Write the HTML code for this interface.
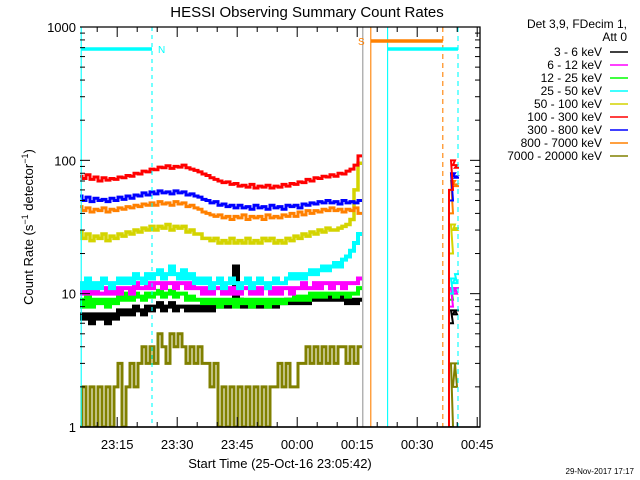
<!DOCTYPE html>
<html><head><meta charset="utf-8"><style>
body{margin:0;background:#fff}
svg{display:block;font-family:"Liberation Sans",sans-serif}
</style></head><body>
<svg id="chart" width="640" height="480" viewBox="0 0 640 480">
<rect width="640" height="480" fill="#fff"/>
<text x="307" y="17" font-size="15" text-anchor="middle">HESSI Observing Summary Count Rates</text>
<text transform="translate(33,227) rotate(-90)" font-size="13" text-anchor="middle">Count Rate (s<tspan baseline-shift="super" font-size="9">−1</tspan> detector<tspan baseline-shift="super" font-size="9">−1</tspan>)</text>
<text x="280" y="468" font-size="13" text-anchor="middle">Start Time (25-Oct-16 23:05:42)</text>
<text x="634" y="474" font-size="8" text-anchor="end">29-Nov-2017 17:17</text>
<g id="plot"></g>
<g id="axes"></g>
<g id="legend"></g>
</svg>
<script>
// ---- data ----
const seriesNames=["3 - 6 keV","6 - 12 keV","12 - 25 keV","25 - 50 keV","50 - 100 keV","100 - 300 keV","300 - 800 keV","800 - 7000 keV","7000 - 20000 keV"];
const seriesColors=["#000000","#ff00ff","#00ff00","#00ffff","#d4d400","#ff0000","#0000ff","#ff8000","#808000"];
const yTickValues=[1,10,100,1000];
const yTickLabels=["1","10","100","1000"];
const xTickMinutes=[9.3,24.3,39.3,54.3,69.3,84.3,99.3];
const xTickLabels=["23:15","23:30","23:45","00:00","00:15","00:30","00:45"];
// minutes after 23:05:42, one sample per minute (0..70)
const red=[76,73,78,72,75,70,74,71,73,72,75,74,77,76,80,79,83,82,86,85,89,88,91,87,90,89,92,88,86,84,82,79,77,74,72,70,68,69,66,67,64,65,63,66,62,64,63,65,62,64,63,66,64,67,66,69,68,72,70,74,73,76,75,78,76,80,79,83,86,92,108];
const blue=[54,50,53,49,52,50,51,49,52,50,53,51,54,52,55,54,57,55,58,56,59,57,58,56,59,57,58,55,56,54,53,51,50,48,49,46,47,45,46,44,46,44,45,43,46,44,45,43,46,44,45,43,46,45,46,44,47,46,48,47,49,48,50,48,49,47,50,48,49,48,50];
const orange=[45,42,44,41,43,42,44,41,43,42,44,43,45,44,46,45,47,46,48,46,49,47,48,46,49,47,48,45,46,44,43,41,40,39,38,39,37,38,36,38,37,39,36,38,37,38,36,39,37,38,37,39,38,40,38,41,39,42,40,42,41,43,42,44,42,43,41,43,42,44,40];
const yellow=[29,26,28,25,27,26,28,25,27,26,28,27,29,28,30,29,31,30,32,30,32,31,33,30,32,31,32,29,30,28,28,26,26,25,26,24,25,24,26,24,25,24,26,24,25,24,26,25,26,24,25,24,26,25,27,26,28,27,29,28,30,29,31,30,30,31,32,33,36,60,95];
const cyan=[12,11,13,11,12,11,13,12,11,12,13,12,13,12,14,13,12,14,13,14,15,13,14,16,14,13,15,13,14,12,13,12,13,11,12,13,11,12,13,12,11,12,13,11,12,13,12,11,12,13,12,12,13,14,13,14,13,14,15,14,15,16,15,16,17,16,18,19,21,24,28];
const magenta=[11,10,11,10,11,10,10,11,10,11,10,11,11,10,12,11,11,12,11,12,12,11,12,12,11,12,12,11,12,11,11,10,11,10,11,11,10,11,10,11,10,11,11,10,11,10,11,11,10,11,10,11,11,10,11,11,12,11,11,12,11,12,12,11,12,12,11,12,12,12,13];
const green=[9,8,9.5,8,9,8.5,9,8,9,8.5,9.5,9,10,9,10,9.5,9,10,9.5,10,10.5,9.5,10,10.5,9.5,10,10,9,9.5,9,9,8.5,9,8.5,9,8,9,8.5,9,8,9,8.5,9,8,9,8.5,9,8,9,8.5,9,8.5,9,9,9.5,9,9.5,9,10,9.5,10,9.5,10,10,9.5,10,10,9.5,10,10,11];
const black=[7,6.5,7,6,7,6.5,7,6,7,6.5,7.5,7,7.5,7,8,7.5,7,8,7.5,8,8.5,7.5,8,8.5,7.5,8,8,7.5,8,7.5,8,7.5,8,7.5,8,8.5,8,8,8.5,16,9,8,8.5,8,8.5,8,8.5,8,8.5,8,8.5,8.5,9,8.5,9,8.5,9,8.5,9,9.5,9,9,9.5,9,9,9.5,9,8.5,9,8.5,9];
const olive=[1,2,1,2,1,2,1,2,1,2,3,1,2,3,2,3,4,3,4,3,5,4,3,5,4,5,4,3,4,3,4,3,3,2,3,1,2,1,2,1,2,1,2,1,2,1,2,1,2,2,3,2,3,2,2,3,3,4,3,4,3,4,3,4,3,4,4,3,4,3,4];
// second segment (minutes 92.75..94.5)
const seg2Minutes=[92.75,93.25,93.75,94.25];
const seg2=[[6,7.5,7,7.5],[8,11,10,11],[9,11,10,11],[10,13,12,14],[20,33,30,31],[60,100,92,88],[50,80,76,74],[40,70,66,64],[1,3,2,3]];
const segEnd=[black,magenta,green,cyan,yellow,red,blue,orange,olive];
// ---- scales ----
const X0=80,X1=480,Y0=427,Y1=27,MIN_MAX=100;
const xs=m=>X0+(X1-X0)*m/MIN_MAX;
const ys=v=>Y0-(Y0-Y1)*Math.log10(Math.max(v,0.5))/3;
const NS="http://www.w3.org/2000/svg";
function mk(tag,attrs,parent){const e=document.createElementNS(NS,tag);for(const k in attrs)e.setAttribute(k,attrs[k]);parent.appendChild(e);return e;}
const plot=document.getElementById('plot'),axes=document.getElementById('axes'),legend=document.getElementById('legend');
const defs=mk('defs',{},plot);const cp=mk('clipPath',{id:'cp'},defs);mk('rect',{x:X0,y:Y1,width:X1-X0,height:Y0-Y1},cp);
const g=mk('g',{'clip-path':'url(#cp)'},plot);
function stepPath(ms,vals){let d='';for(let i=0;i<vals.length;i++){const x0=xs(ms[i]-0.5),x1=xs(ms[i]+0.5),y=ys(vals[i]);d+=(i?'L':'M')+x0+','+y+'L'+x1+','+y;}return d;}
const mins=red.map((_,i)=>i);
const order=[8,0,2,1,3,4,7,6,5];
const widths=[4,4,4,4,3.5,3,3,3,3];
order.forEach(si=>{
  const p=mk('path',{d:stepPath(mins,segEnd[si]),fill:'none',stroke:seriesColors[si],'stroke-width':widths[si]},g);
  
  
  const q=mk('path',{d:'M'+xs(seg2Minutes[0]-0.5)+','+Y0+'L'+stepPath(seg2Minutes,seg2[si]).slice(1),fill:'none',stroke:seriesColors[si],'stroke-width':2},g);
  
  
});
// vertical event lines
const vlines=[[0.3,'#00ffff',''],[18,'#00ffff','4,4'],[70.7,'#999999',''],[72.7,'#ff8000',''],[76.9,'#00ffff',''],[90.7,'#ff8000','5,4'],[94.5,'#00ffff','5,4']];
vlines.forEach(v=>{const l=mk('line',{x1:xs(v[0]),x2:xs(v[0]),y1:Y1,y2:Y0,stroke:v[1],'stroke-width':1.1,'stroke-dasharray':v[2]},plot);

});
// bars
[[0.3,18,49,'#00ffff','N',158,53],[72.7,90.7,41,'#ff8000','S',358,45],[76.9,94.5,49,'#00ffff','',0,0]].forEach(b=>{
 const r=mk('line',{x1:xs(b[0]),x2:xs(b[1]),y1:b[2],y2:b[2],stroke:b[3],'stroke-width':3.5},plot);
 
 
 if(b[4]){const t=mk('text',{x:b[5],y:b[6],fill:b[3],'font-size':10},plot);t.textContent=b[4];
 
 }
});
// axes box
mk('path',{d:`M${X0},${Y1}H${X1}V${Y0}H${X0}`,fill:'none',stroke:'#000','stroke-width':1.3},axes);
mk('line',{x1:X0,x2:X1,y1:Y0,y2:Y0,stroke:'#000','stroke-width':1.5},axes);
// y ticks
for(let d=0;d<3;d++)for(let k=1;k<10;k++){const v=k*Math.pow(10,d),y=ys(v),len=k===1?10:5;
 mk('line',{x1:X0,x2:X0+len,y1:y,y2:y,stroke:'#000'},axes);mk('line',{x1:X1,x2:X1-len,y1:y,y2:y,stroke:'#000'},axes);}
mk('line',{x1:X0,x2:X0+10,y1:ys(1000),y2:ys(1000),stroke:'#000'},axes);mk('line',{x1:X1,x2:X1-10,y1:ys(1000),y2:ys(1000),stroke:'#000'},axes);
yTickValues.forEach((v,i)=>{const t=mk('text',{x:76,y:ys(v)+5,'font-size':13,'text-anchor':'end'},axes);t.textContent=yTickLabels[i];

});
// x ticks
for(let m=xTickMinutes[0]-5;m<MIN_MAX;m+=5){if(m<0)continue;const major=xTickMinutes.some(t=>Math.abs(t-m)<0.01),len=major?10:5,x=xs(m);
 mk('line',{x1:x,x2:x,y1:Y0,y2:Y0-len,stroke:'#000'},axes);mk('line',{x1:x,x2:x,y1:Y1,y2:Y1+len,stroke:'#000'},axes);}
xTickMinutes.forEach((m,i)=>{const t=mk('text',{x:xs(m),y:449,'font-size':13,'text-anchor':'middle'},axes);t.textContent=xTickLabels[i];

});
// legend
[["Det 3,9, FDecim 1,",28],["Att 0",41]].forEach(h=>{const t=mk('text',{x:627,y:h[1],'font-size':12,'text-anchor':'end'},legend);t.textContent=h[0];

});
seriesNames.forEach((n,i)=>{const y=52+i*13;const t=mk('text',{x:602,y:y+4,'font-size':12,'text-anchor':'end'},legend);t.textContent=n;


mk('line',{x1:610,x2:628,y1:y,y2:y,stroke:seriesColors[i],'stroke-width':1.5},legend);});
</script>
</body></html>
